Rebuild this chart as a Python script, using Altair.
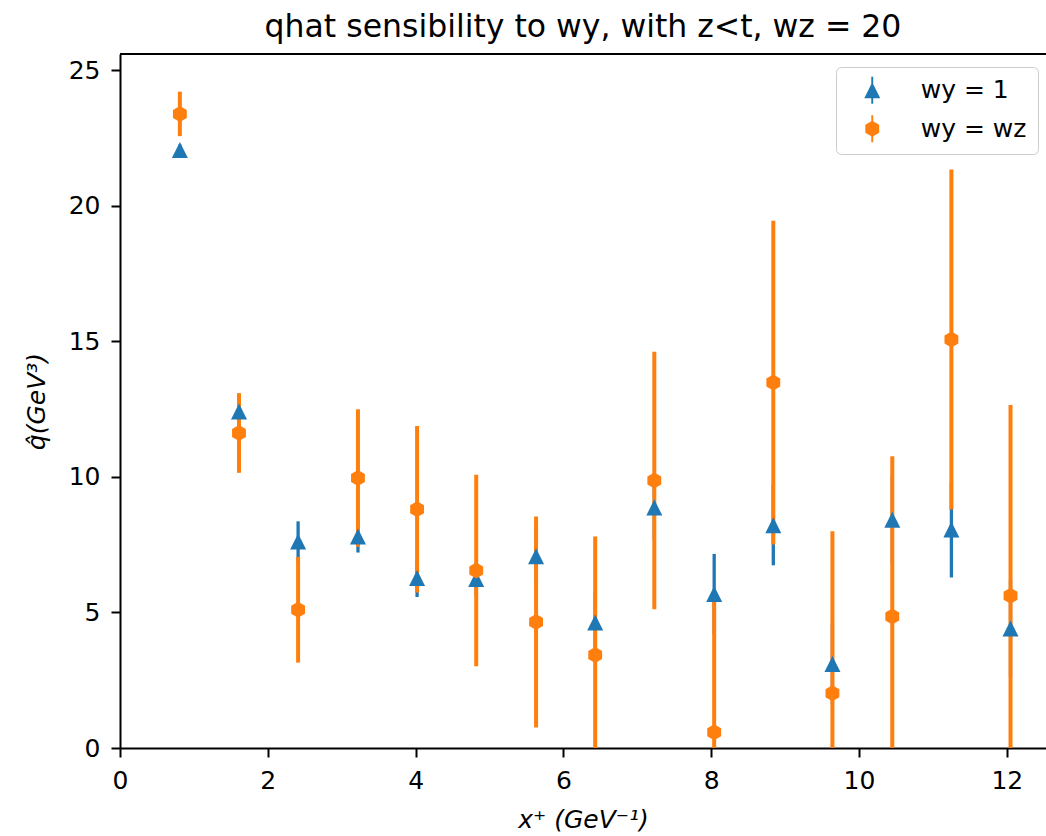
import altair as alt
import pandas as pd

# ---- data ----
x_vals = [0.81, 1.61, 2.41, 3.22, 4.02, 4.82, 5.63, 6.43, 7.23, 8.04, 8.84, 9.64, 10.45, 11.25, 12.05]

wy1_vals = [22.06, 12.41, 7.62, 7.80, 6.27, 6.23, 7.07, 4.63, 8.87, 5.68, 8.22, 3.10, 8.42, 8.06, 4.41]
wy1_err = [0.20, 0.30, 0.74, 0.59, 0.70, 0.60, 1.00, 1.10, 1.20, 1.48, 1.48, 1.50, 1.60, 1.77, 1.80]

wywz_vals = [23.39, 11.62, 5.10, 9.96, 8.81, 6.55, 4.65, 3.43, 9.87, 0.58, 13.48, 2.02, 4.85, 15.07, 5.62]
wywz_err = [0.82, 1.47, 1.95, 2.54, 3.07, 3.53, 3.89, 4.37, 4.75, 4.90, 5.97, 5.98, 5.91, 6.27, 7.03]

series_names = ["wy = 1", "wy = wz"]
series_colors = ["#1f77b4", "#ff7f0e"]

x_ticks = [0, 2, 4, 6, 8, 10, 12]
y_ticks = [0, 5, 10, 15, 20, 25]

title_text = "qhat sensibility to wy, with z<t, wz = 20"
x_title = "x⁺  (GeV⁻¹)"
y_title = "q̂(GeV³)"

# ---- table ----
rows = []
for name, vals, errs in [(series_names[0], wy1_vals, wy1_err), (series_names[1], wywz_vals, wywz_err)]:
    for xv, v, e in zip(x_vals, vals, errs):
        rows.append({"x": xv, "q": v, "lo": v - e, "hi": v + e, "series": name, "marker": name})
df = pd.DataFrame(rows)

TRI = "M0,-1 L1,1 L-1,1 Z"
HEX = "M0,-1 L0.866,-0.5 L0.866,0.5 L0,1 L-0.866,0.5 L-0.866,-0.5 Z"
BAR = " M-0.12,-1.7 L0.12,-1.7 L0.12,1.7 L-0.12,1.7 Z"

W, H = 926, 694
FONT = "DejaVu Sans"

xscale = alt.Scale(domain=[0, 12.53], nice=False, zero=False)
yscale = alt.Scale(domain=[0, 25.6], nice=False, zero=False)
cscale = alt.Scale(domain=series_names, range=series_colors)

x_axis = alt.Axis(values=x_ticks, format="d", grid=False, title=x_title, labelFlush=False,
                  titleFontStyle="italic", titleY=79, titleBaseline="alphabetic")
y_axis = alt.Axis(values=y_ticks, format="d", grid=False, title=y_title, labelFlush=False,
                  titleFontStyle="italic", titleX=-76, titleBaseline="alphabetic")

def make_legend():
    return alt.Legend(
        title=None, orient="none", legendX=716, legendY=13,
        padding=10.75, fillColor="white", strokeColor="#cccccc", cornerRadius=5,
        labelFontSize=25, labelFont=FONT, labelColor="black",
        symbolSize=256, symbolOffset=13, labelOffset=36, rowPadding=9.5,
        symbolStrokeWidth=0, symbolOpacity=1,
    )

def bar_layer(name, width):
    return alt.Chart(df).transform_filter(
        alt.datum.series == name
    ).mark_rule(strokeWidth=width, clip=True).encode(
        x=alt.X("x:Q", scale=xscale, axis=x_axis),
        y=alt.Y("lo:Q", scale=yscale, axis=y_axis),
        y2="hi:Q",
        color=alt.Color("series:N", scale=cscale, legend=None),
    )

bars_blue = bar_layer(series_names[0], 3.3)
bars_orange = bar_layer(series_names[1], 4.0)

# invisible layer that only drives the legend (marker + error bar glyph)
legend_layer = alt.Chart(df).mark_point(filled=True, opacity=0, size=256).encode(
    x=alt.X("x:Q", scale=xscale, axis=x_axis),
    y=alt.Y("q:Q", scale=yscale, axis=y_axis),
    color=alt.Color("series:N", scale=cscale, legend=make_legend()),
    shape=alt.Shape("series:N", scale=alt.Scale(domain=series_names, range=[TRI + BAR, HEX + BAR]),
                    legend=make_legend()),
)

points = alt.Chart(df).mark_point(filled=True, opacity=1, size=256).encode(
    x=alt.X("x:Q", scale=xscale, axis=x_axis),
    y=alt.Y("q:Q", scale=yscale, axis=y_axis),
    color=alt.Color("series:N", scale=cscale, legend=None),
    shape=alt.Shape("marker:N", scale=alt.Scale(domain=series_names, range=[TRI, HEX]), legend=None),
)

top_spine = alt.Chart(df).mark_rule(color="black", strokeWidth=2).encode(
    x=alt.value(0), x2=alt.value(W), y=alt.value(0)
)

chart = alt.layer(bars_blue, bars_orange, legend_layer, points, top_spine).resolve_scale(
    shape="independent"
).resolve_legend(
    color="independent", shape="independent"
).properties(
    width=W, height=H,
    title=alt.TitleParams(text=title_text, fontSize=31.5, font=FONT, fontWeight="normal",
                          anchor="middle", baseline="alphabetic", offset=15, dy=30, color="black"),
    autosize=alt.AutoSizeParams(type="none"),
    padding={"left": 120, "top": 54, "right": 0, "bottom": 88},
    background="white",
).configure_view(stroke=None).configure_axis(
    labelFont=FONT, labelFontSize=25, labelColor="black", labelPadding=11,
    tickSize=9, tickWidth=2, tickColor="black",
    domainColor="black", domainWidth=2,
    titleFont=FONT, titleFontSize=25, titleFontWeight="normal", titleColor="black",
)

chart.save("out.html", embed_options={"renderer": "svg", "actions": False})
